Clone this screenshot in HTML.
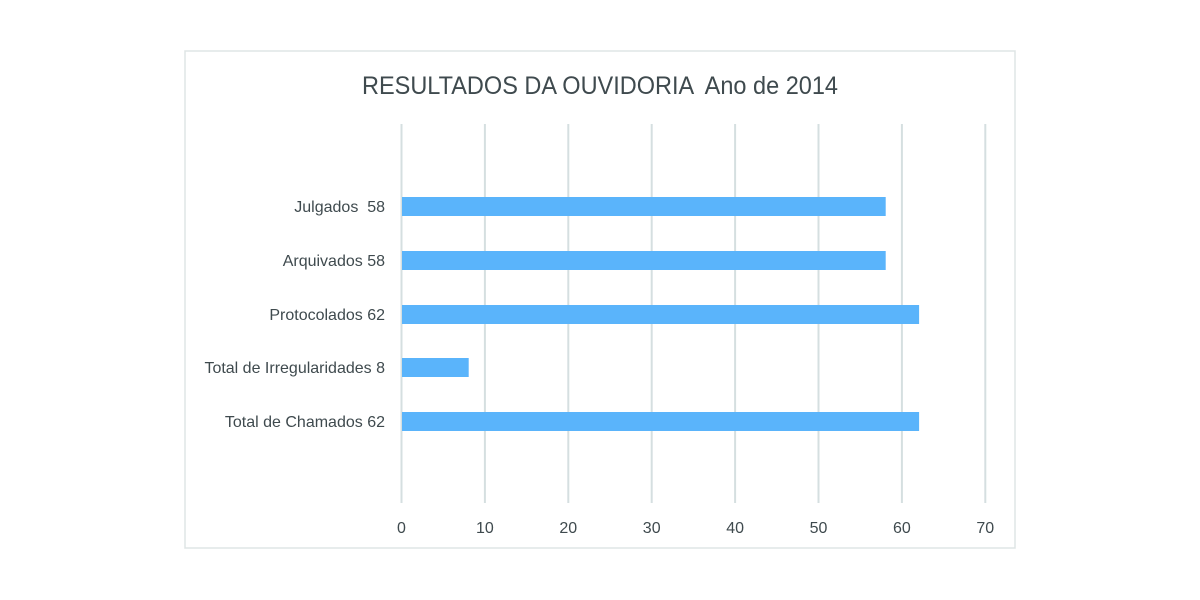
<!DOCTYPE html>
<html><head><style>body{margin:0;background:#fff}svg{display:block}text{white-space:pre}</style></head>
<body>
<svg width="1200" height="600" xmlns="http://www.w3.org/2000/svg" font-family="Liberation Sans, sans-serif">
<rect x="185" y="51" width="830" height="497" fill="#fff" stroke="#dfe5e5" stroke-width="1.5"/>
<text x="362" y="94" font-size="25" fill="#3f4a4e" textLength="476" lengthAdjust="spacingAndGlyphs">RESULTADOS DA OUVIDORIA  Ano de 2014</text>
<g stroke="#d5dfe0" stroke-width="2">
<line x1="401.5" y1="124" x2="401.5" y2="503"/>
<line x1="484.9" y1="124" x2="484.9" y2="503"/>
<line x1="568.3" y1="124" x2="568.3" y2="503"/>
<line x1="651.7" y1="124" x2="651.7" y2="503"/>
<line x1="735.1" y1="124" x2="735.1" y2="503"/>
<line x1="818.5" y1="124" x2="818.5" y2="503"/>
<line x1="901.9" y1="124" x2="901.9" y2="503"/>
<line x1="985.3" y1="124" x2="985.3" y2="503"/>
</g>
<g fill="#5ab4fb">
<rect x="402" y="197" width="483.7" height="19"/>
<rect x="402" y="251" width="483.7" height="19"/>
<rect x="402" y="305" width="517.1" height="19"/>
<rect x="402" y="358" width="66.7" height="19"/>
<rect x="402" y="412" width="517.1" height="19"/>
</g>
<g font-size="16" fill="#3f4a4e" text-anchor="end">
<text x="385" y="212">Julgados  58</text>
<text x="385" y="266">Arquivados 58</text>
<text x="385" y="320">Protocolados 62</text>
<text x="385" y="373">Total de Irregularidades 8</text>
<text x="385" y="427">Total de Chamados 62</text>
</g>
<g font-size="16" fill="#3f4a4e" text-anchor="middle">
<text x="401.5" y="533">0</text>
<text x="484.9" y="533">10</text>
<text x="568.3" y="533">20</text>
<text x="651.7" y="533">30</text>
<text x="735.1" y="533">40</text>
<text x="818.5" y="533">50</text>
<text x="901.9" y="533">60</text>
<text x="985.3" y="533">70</text>
</g>
</svg>
</body></html>
